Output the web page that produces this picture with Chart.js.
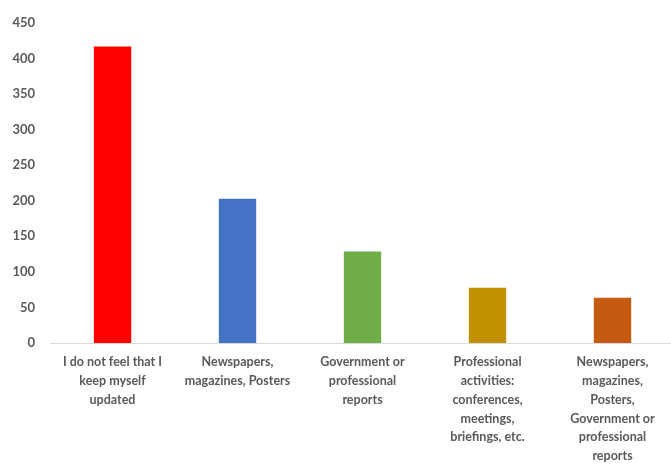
<!DOCTYPE html>
<html>
<head>
<meta charset="utf-8">
<script src="https://cdn.jsdelivr.net/npm/chart.js@4/dist/chart.umd.min.js"></script>
<style>
  html, body { margin: 0; padding: 0; background: #fff; overflow: hidden; }
  #wrap { width: 675px; height: 465px; position: relative; }
</style>
</head>
<body>
<div id="wrap"><canvas id="chart"></canvas></div>
<script>
// categories and counts
const categories = [
  ['I do not feel that I', 'keep myself', 'updated'],
  ['Newspapers,', 'magazines, Posters'],
  ['Government or', 'professional', 'reports'],
  ['Professional', 'activities:', 'conferences,', 'meetings,', 'briefings, etc.'],
  ['Newspapers,', 'magazines,', 'Posters,', 'Government or', 'professional', 'reports']
];
const counts = [418, 204, 130, 79, 65];
const barColors = ['#FF0000', '#4472C4', '#70AD47', '#BF9000', '#C55A11'];
const yTicks = [0, 50, 100, 150, 200, 250, 300, 350, 400, 450];

const textGray = '#595959';
const fontFamily = 'Lato, "Open Sans", sans-serif';

new Chart(document.getElementById('chart').getContext('2d'), {
  type: 'bar',
  data: {
    labels: categories,
    datasets: [{
      data: counts,
      backgroundColor: barColors,
      borderColor: 'rgba(255,255,255,0.5)',
      borderWidth: 1,
      categoryPercentage: 1,
      barPercentage: 0.315
    }]
  },
  options: {
    responsive: true,
    maintainAspectRatio: false,
    animation: false,
    layout: { padding: { top: 19, left: 0, right: 0, bottom: 0 } },
    plugins: { legend: { display: false }, tooltip: { enabled: false } },
    scales: {
      x: {
        grid: { display: true, drawOnChartArea: false, drawTicks: false },
        border: { display: true, color: '#d9d9d9', width: 1 },
        ticks: {
          color: textGray, padding: 10, maxRotation: 0, autoSkip: false,
          font: { family: fontFamily, size: 12.5, weight: 'bold', lineHeight: 1.5 }
        },
        afterFit: (s) => { s.height = 122; }
      },
      y: {
        min: 0, max: 450,
        afterBuildTicks: (s) => { s.ticks = yTicks.map(v => ({ value: v })); },
        grid: { display: false, drawTicks: false },
        border: { display: false },
        ticks: {
          color: textGray, padding: 15,
          font: { family: fontFamily, size: 13, weight: 'bold' }
        },
        afterFit: (s) => { s.width = 50; }
      }
    }
  }
});
</script>
</body>
</html>
